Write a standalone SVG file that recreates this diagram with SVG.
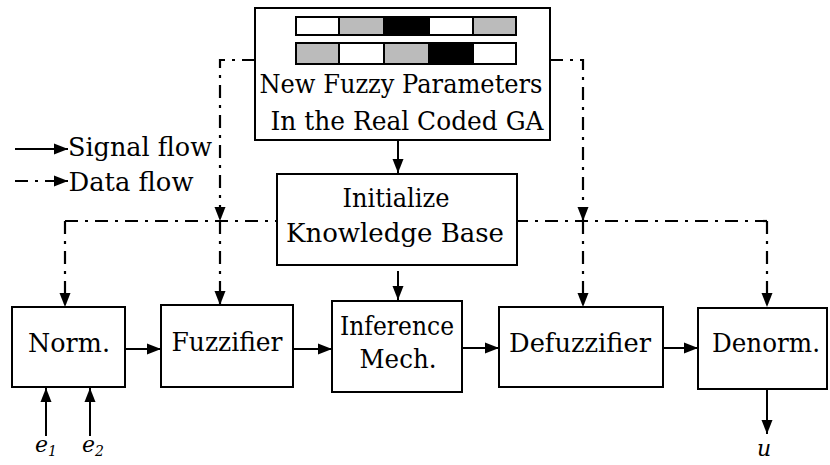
<svg xmlns="http://www.w3.org/2000/svg" width="830" height="465" viewBox="0 0 830 465">
<style>
.box{fill:#fff;stroke:#000;stroke-width:2}
text{font-family:'DejaVu Serif',serif}
.t{font-size:26px;fill:#000;text-anchor:middle}
.it{font-style:italic;font-size:22px;fill:#000}
.sig{fill:none;stroke:#000;stroke-width:2}
.dat{fill:none;stroke:#000;stroke-width:2.2;stroke-dasharray:13 7 3 7}
.g{stroke:#000;stroke-width:2}
</style>
<defs>
<marker id="ah" markerUnits="userSpaceOnUse" markerWidth="15" markerHeight="15" viewBox="0 0 15 15" refX="14" refY="7.5" orient="auto">
<path d="M0,2 L14,7.5 L0,13 z" fill="#000"/>
</marker>
</defs>
<g id="connectors">
<line class="sig" x1="15" y1="149" x2="68" y2="149" marker-end="url(#ah)"/>
<line class="dat" x1="15" y1="181" x2="68" y2="181" marker-end="url(#ah)"/>
<polyline class="dat" points="255,60 220,60 220,221" marker-end="url(#ah)"/>
<line class="dat" x1="220" y1="221" x2="220" y2="305" marker-end="url(#ah)"/>
<polyline class="dat" points="550,60 583,60 583,221" marker-end="url(#ah)"/>
<line class="dat" x1="583" y1="221" x2="583" y2="307" marker-end="url(#ah)"/>
<polyline class="dat" points="65,221 767,221"/>
<line class="dat" x1="65" y1="221" x2="65" y2="307" marker-end="url(#ah)"/>
<line class="dat" x1="767" y1="221" x2="767" y2="307" marker-end="url(#ah)"/>
<line class="sig" x1="398" y1="141" x2="398" y2="173" marker-end="url(#ah)"/>
<line class="sig" x1="398" y1="271" x2="398" y2="300" marker-end="url(#ah)"/>
<line class="sig" x1="125" y1="349" x2="161" y2="349" marker-end="url(#ah)"/>
<line class="sig" x1="293" y1="349" x2="332" y2="349" marker-end="url(#ah)"/>
<line class="sig" x1="462" y1="348" x2="499" y2="348" marker-end="url(#ah)"/>
<line class="sig" x1="663" y1="348" x2="698" y2="348" marker-end="url(#ah)"/>
<line class="sig" x1="46" y1="436" x2="46" y2="388" marker-end="url(#ah)"/>
<line class="sig" x1="90" y1="436" x2="90" y2="388" marker-end="url(#ah)"/>
<line class="sig" x1="767" y1="389" x2="767" y2="434" marker-end="url(#ah)"/>
</g>
<g id="legend">
<text class="t" x="140" y="156" textLength="144" lengthAdjust="spacingAndGlyphs">Signal flow</text>
<text class="t" x="131" y="191" textLength="125" lengthAdjust="spacingAndGlyphs">Data flow</text>
</g>
<g id="ga">
<rect class="box" x="255" y="8" width="295" height="132"/>
<rect x="296" y="17" width="43" height="18" fill="#fff" class="g"/>
<rect x="339" y="17" width="45" height="18" fill="#bbb" class="g"/>
<rect x="384" y="17" width="45" height="18" fill="#000" class="g"/>
<rect x="429" y="17" width="44" height="18" fill="#fff" class="g"/>
<rect x="473" y="17" width="43" height="18" fill="#bbb" class="g"/>
<rect x="296" y="43" width="43" height="21" fill="#bbb" class="g"/>
<rect x="339" y="43" width="45" height="21" fill="#fff" class="g"/>
<rect x="384" y="43" width="45" height="21" fill="#bbb" class="g"/>
<rect x="429" y="43" width="44" height="21" fill="#000" class="g"/>
<rect x="473" y="43" width="43" height="21" fill="#fff" class="g"/>
<text class="t" x="401" y="93" textLength="283" lengthAdjust="spacingAndGlyphs">New Fuzzy Parameters</text>
<text class="t" x="407" y="130" textLength="273" lengthAdjust="spacingAndGlyphs">In the Real Coded GA</text>
</g>
<g id="init">
<rect class="box" x="277" y="174" width="240" height="91"/>
<text class="t" x="396" y="207" textLength="107" lengthAdjust="spacingAndGlyphs">Initialize</text>
<text class="t" x="395" y="242" textLength="218" lengthAdjust="spacingAndGlyphs">Knowledge Base</text>
</g>
<g id="norm">
<rect class="box" x="12" y="307" width="113" height="80"/>
<text class="t" x="69" y="352" textLength="82" lengthAdjust="spacingAndGlyphs">Norm.</text>
</g>
<g id="fuzzifier">
<rect class="box" x="161" y="305" width="132" height="82"/>
<text class="t" x="227" y="351" textLength="111" lengthAdjust="spacingAndGlyphs">Fuzzifier</text>
</g>
<g id="inference">
<rect class="box" x="332" y="301" width="130" height="91"/>
<text class="t" x="397" y="335" textLength="114" lengthAdjust="spacingAndGlyphs">Inference</text>
<text class="t" x="398" y="368" textLength="77" lengthAdjust="spacingAndGlyphs">Mech.</text>
</g>
<g id="defuzzifier">
<rect class="box" x="499" y="307" width="164" height="80"/>
<text class="t" x="580" y="352" textLength="142" lengthAdjust="spacingAndGlyphs">Defuzzifier</text>
</g>
<g id="denorm">
<rect class="box" x="698" y="308" width="129" height="81"/>
<text class="t" x="766" y="352" textLength="108" lengthAdjust="spacingAndGlyphs">Denorm.</text>
</g>
<g id="io">
<text class="it" x="35" y="452">e<tspan font-size="14" dy="4">1</tspan></text>
<text class="it" x="82" y="452">e<tspan font-size="14" dy="4">2</tspan></text>
<text class="it" x="757" y="456">u</text>
</g>
</svg>
